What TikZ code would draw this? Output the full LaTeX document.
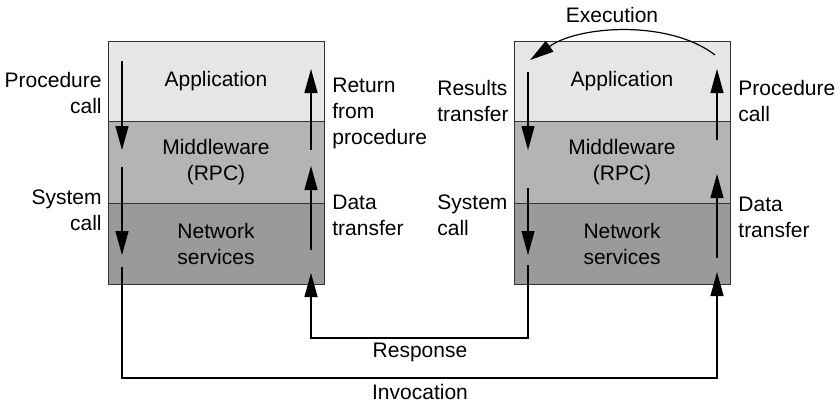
\documentclass[tikz,border=0pt]{standalone}
\usepackage{fontspec}
\setmainfont{Liberation Sans}
\usetikzlibrary{arrows.meta}
\definecolor{appgray}{HTML}{E6E6E6}
\definecolor{midgray}{HTML}{B4B4B4}
\definecolor{netgray}{HTML}{9A9A9A}
\definecolor{edgegray}{HTML}{333333}
\begin{document}
\begin{tikzpicture}[x=0.5pt,y=-0.5pt,
  font=\fontsize{10.5}{13}\selectfont,
  layer/.style={draw=edgegray,line width=0.5pt,minimum width=108pt,inner sep=0pt,align=center},
  lbl/.style={inner sep=0pt},
  arr/.style={line width=0.6pt,-{Triangle[length=12pt,width=6.5pt]}}]
\useasboundingbox (0,0) rectangle (839,404);

% client stack
\node[layer,fill=appgray,minimum height=40pt] (lapp) at (216,81) {Application};
\node[layer,fill=midgray,minimum height=41pt] (lmid) at (216,162) {Middleware\\(RPC)};
\node[layer,fill=netgray,minimum height=40.5pt] (lnet) at (216,243.5) {Network\\services};

% server stack
\node[layer,fill=appgray,minimum height=40pt] (rapp) at (622,81) {Application};
\node[layer,fill=midgray,minimum height=41pt] (rmid) at (622,162) {Middleware\\(RPC)};
\node[layer,fill=netgray,minimum height=40.5pt] (rnet) at (622,243.5) {Network\\services};

% arrow end points, client side
\coordinate (la1) at (122,61);  \coordinate (lb1) at (122,150);
\coordinate (la2) at (122,167); \coordinate (lb2) at (122,255);
\coordinate (la3) at (122,267);
\coordinate (lu1) at (311,150); \coordinate (lv1) at (311,69);
\coordinate (lu2) at (311,250); \coordinate (lv2) at (311,166);
\coordinate (lv3) at (311,273);

% arrow end points, server side
\coordinate (ra1) at (528,72);  \coordinate (rb1) at (528,150);
\coordinate (ra2) at (528,188); \coordinate (rb2) at (528,255);
\coordinate (ra3) at (528,265);
\coordinate (ru1) at (717,140); \coordinate (rv1) at (717,69);
\coordinate (ru2) at (717,258); \coordinate (rv2) at (717,174);
\coordinate (rv3) at (717,272);

\coordinate (resp) at (420,338);
\coordinate (inv) at (420,378);
\coordinate (ex1) at (715,55);
\coordinate (ex2) at (530,60);

% calls down the client stack, returns up
\draw[arr] (la1) -- (lb1);
\draw[arr] (la2) -- (lb2);
\draw[arr] (lu1) -- (lv1);
\draw[arr] (lu2) -- (lv2);

% server stack
\draw[arr] (ra1) -- (rb1);
\draw[arr] (ra2) -- (rb2);
\draw[arr] (ru1) -- (rv1);
\draw[arr] (ru2) -- (rv2);

% network legs
\draw[arr] (ra3) |- (resp) -| (lv3);
\draw[arr] (la3) |- (inv) -| (rv3);

% execution on the server
\draw[arr] (ex1) .. controls (670,20) and (580,25) .. (ex2);

% labels
\node[lbl] (exec) at (612,15) {Execution};
\node[lbl] (resptxt) at (420,352) {Response};
\node[lbl] (invtxt) at (420,392) {Invocation};

\node[lbl,align=right,anchor=east] (t1) at (102,93) {Procedure\\call};
\node[lbl,align=right,anchor=east] (t2) at (102,210) {System\\call};
\node[lbl,align=left,anchor=west] (t3) at (332,113) {Return\\from\\procedure};
\node[lbl,align=left,anchor=west] (t4) at (332,215) {Data\\transfer};
\node[lbl,align=left,anchor=west] (t5) at (437,101) {Results\\transfer};
\node[lbl,align=left,anchor=west] (t6) at (437,215) {System\\call};
\node[lbl,align=left,anchor=west] (t7) at (738,101) {Procedure\\call};
\node[lbl,align=left,anchor=west] (t8) at (738,217) {Data\\transfer};
\end{tikzpicture}
\end{document}
